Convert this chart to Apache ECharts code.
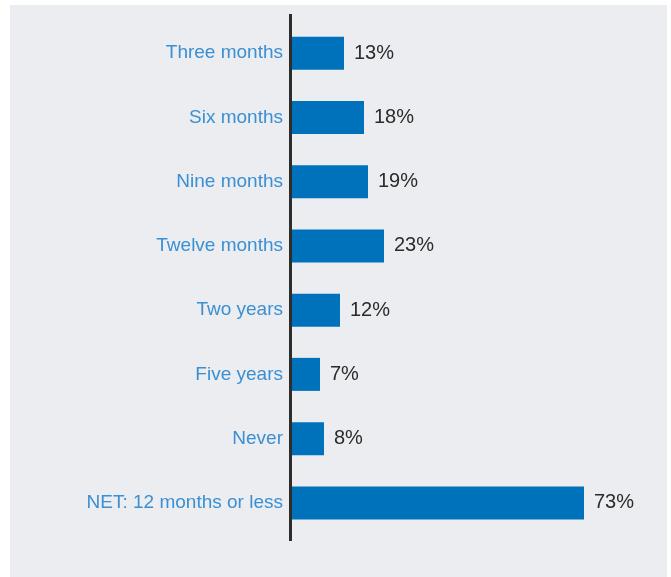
<!DOCTYPE html>
<html>
<head>
<meta charset="utf-8">
<script src="https://cdn.jsdelivr.net/npm/echarts@6/dist/echarts.min.js"></script>
<style>
  html, body { margin: 0; padding: 0; background: #ffffff; }
  #wrap { position: relative; width: 671px; height: 577px; overflow: hidden; }
  #panel { position: absolute; left: 10px; top: 5px; width: 657px; height: 572px; background: #ebedf0; }
  #chart { position: absolute; left: 0; top: 0; width: 671px; height: 577px; }
</style>
</head>
<body>
<div id="wrap">
  <div id="panel"></div>
  <div id="chart"></div>
</div>
<script>
var categories = ["Three months", "Six months", "Nine months", "Twelve months", "Two years", "Five years", "Never", "NET: 12 months or less"];
var values = [13, 18, 19, 23, 12, 7, 8, 73];

var chart = echarts.init(document.getElementById('chart'), null, { renderer: 'canvas' });
chart.setOption({
  backgroundColor: 'transparent',
  animation: false,
  grid: { left: 292, top: 21, height: 514, right: 19 },
  xAxis: {
    type: 'value', min: 0, max: 90,
    show: false
  },
  yAxis: {
    type: 'category',
    data: categories,
    inverse: true,
    axisLine: { show: false },
    axisTick: { show: false },
    splitLine: { show: false },
    axisLabel: {
      margin: 9,
      color: '#3b8fd2',
      fontFamily: 'Liberation Sans',
      fontSize: 19
    }
  },
  series: [{
    type: 'bar',
    data: values,
    barWidth: 33,
    itemStyle: { color: '#0071bb' },
    label: {
      show: true,
      position: 'right',
      distance: 10,
      formatter: function (p) { return p.value + '%'; },
      color: '#2b2b2b',
      fontFamily: 'Liberation Sans',
      fontSize: 20
    }
  }],
  graphic: [{
    type: 'line',
    shape: { x1: 290.5, y1: 14, x2: 290.5, y2: 541 },
    style: { stroke: '#2d2d2d', lineWidth: 3 },
    z: 10
  }]
});
</script>
</body>
</html>
